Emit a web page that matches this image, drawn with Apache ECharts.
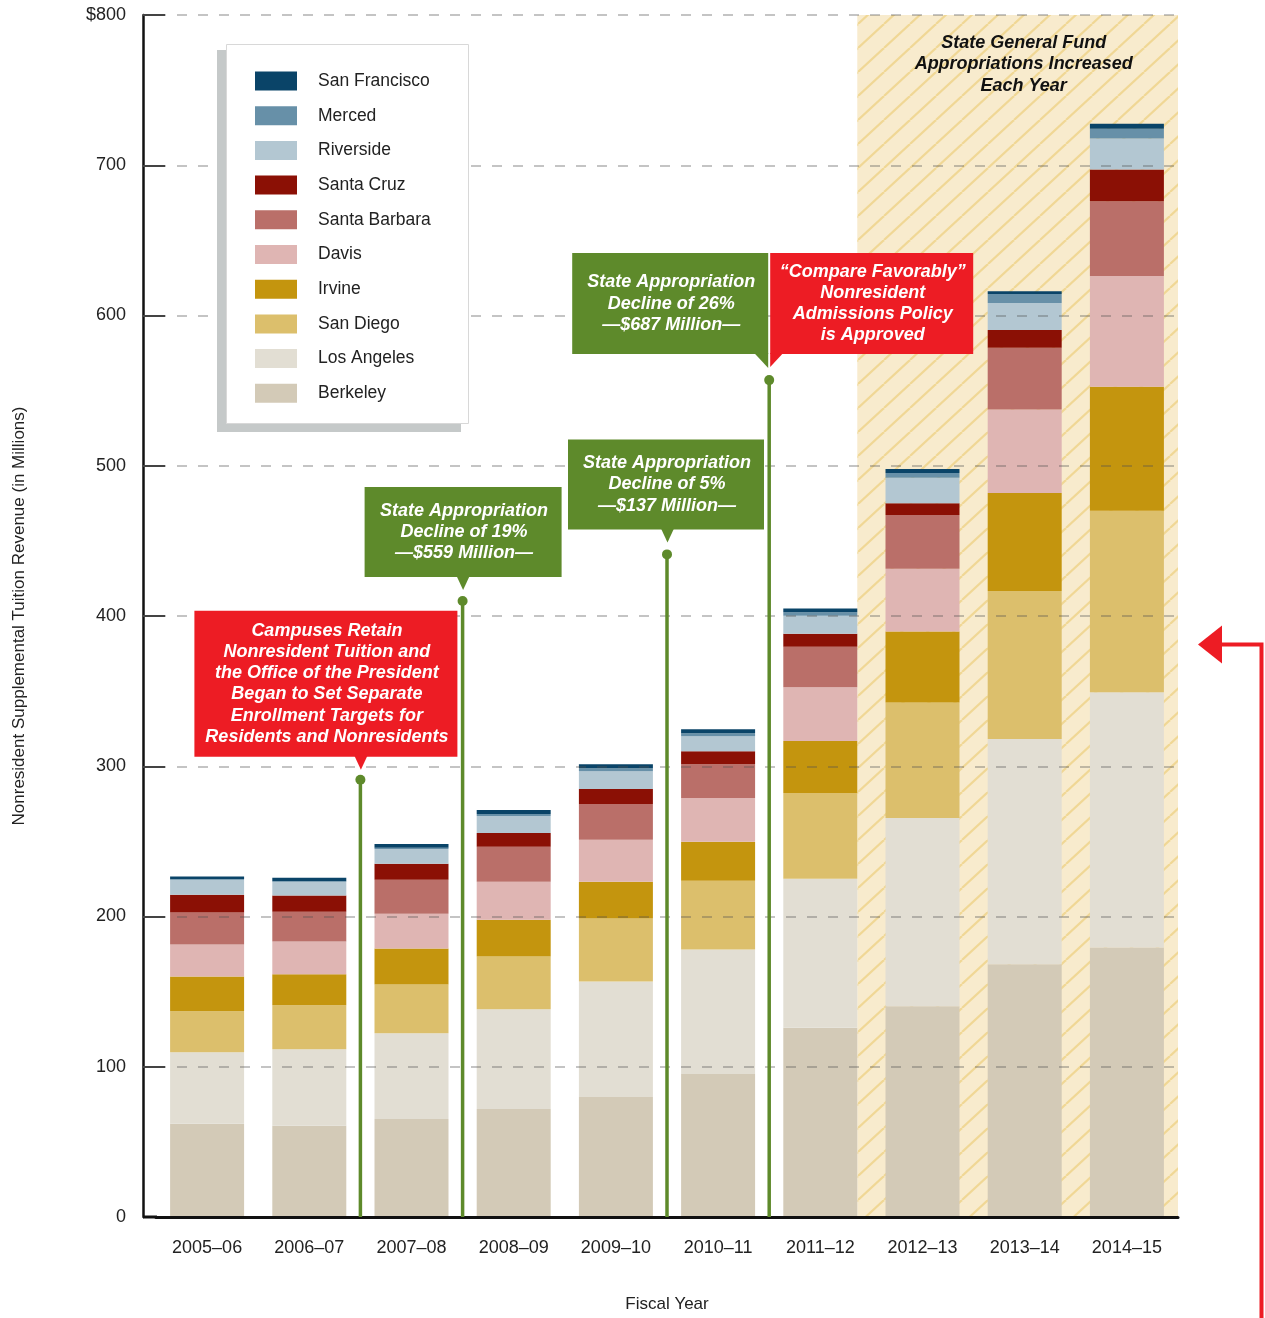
<!DOCTYPE html>
<html><head><meta charset="utf-8">
<script src="https://cdn.jsdelivr.net/npm/echarts@6/dist/echarts.min.js"></script>
<style>html,body{margin:0;padding:0;background:#fff}#c{width:1265px;height:1318px}</style>
</head><body><div id="c"></div>
<script>
const categories = ['2005–06','2006–07','2007–08','2008–09','2009–10','2010–11','2011–12','2012–13','2013–14','2014–15'];
const campuses = ['Berkeley','Los Angeles','San Diego','Irvine','Davis','Santa Barbara','Santa Cruz','Riverside','Merced','San Francisco'];
const campusColors = ['#d3cab7','#e2ded3','#dcbf6c','#c4950e','#dfb5b3','#ba6f69','#8b1005','#b3c7d2','#6790a8','#0a4468'];
const berkeley     = [62.0, 60.7, 65.3, 71.9, 79.9, 95.2, 125.9, 140.2, 168.2, 179.4];
const losAngeles   = [47.7, 51.0, 57.0, 66.4, 76.9, 82.9, 99.3, 125.4, 149.9, 169.9];
const sanDiego     = [27.2, 29.2, 32.5, 35.1, 41.8, 45.7, 57.0, 76.8, 98.5, 120.7];
const irvine       = [23.2, 20.6, 23.9, 24.5, 24.5, 25.9, 34.6, 47.3, 65.3, 82.5];
const davis        = [21.3, 21.9, 23.2, 25.2, 27.9, 29.1, 35.7, 41.7, 55.6, 73.8];
const santaBarbara = [21.2, 19.8, 22.6, 23.3, 23.9, 22.6, 27.1, 35.8, 41.0, 49.7];
const santaCruz    = [11.9, 10.7, 10.6, 9.2, 9.9, 8.6, 8.6, 7.8, 11.9, 21.1];
const riverside    = [10.0, 9.2, 9.9, 11.3, 11.9, 10.0, 11.9, 17.0, 17.9, 20.7];
const merced       = [0.3, 0.3, 0.7, 1.3, 2.0, 2.0, 2.4, 3.2, 6.0, 6.5];
const sanFrancisco = [1.9, 2.4, 2.6, 2.7, 2.7, 2.6, 2.5, 2.6, 1.9, 3.4];
const yTicks = [0, 100, 200, 300, 400, 500, 600, 700, 800];

// events: vertical line after category index, level of dot (millions)
const eventAfterIndex = [1, 2, 4, 5];
const eventLevels = [291, 410, 441, 557];
const calloutTexts = [
  'Campuses Retain\nNonresident Tuition and\nthe Office of the President\nBegan to Set Separate\nEnrollment Targets for\nResidents and Nonresidents',
  'State Appropriation\nDecline of 19%\n—$559 Million—',
  'State Appropriation\nDecline of 5%\n—$137 Million—',
  'State Appropriation\nDecline of 26%\n—$687 Million—',
  '“Compare Favorably”\nNonresident\nAdmissions Policy\nis Approved'
];
const hatchTitle = 'State General Fund\nAppropriations Increased\nEach Year';
const hatchFromIndex = 6;
const arrowLevel = 381;

(function () {
const seriesValues = [berkeley, losAngeles, sanDiego, irvine, davis, santaBarbara, santaCruz, riverside, merced, sanFrancisco];
const GREEN = '#5e8a2b', RED = '#ed1c24';
const FONT = '"Liberation Sans", Arial, sans-serif';
const BAR_W = 74;

const chart = echarts.init(document.getElementById('c'));
chart.setOption({
  animation: false,
  backgroundColor: '#fff',
  grid: { left: 156, top: 15, width: 1022, height: 1206.7 },
  legend: {
    data: campuses.slice().reverse(),
    orient: 'vertical', left: 250, top: 66.5, padding: 5,
    itemWidth: 42, itemHeight: 19, itemGap: 15.7,
    icon: 'rect', selectedMode: false, z: 20,
    textStyle: { fontSize: 17.5, color: '#222', fontFamily: FONT, padding: [0, 0, 0, 16] }
  },
  xAxis: {
    type: 'category', data: categories, z: 5,
    axisLine: { lineStyle: { color: '#111', width: 3 } },
    axisTick: { show: false },
    axisLabel: { fontSize: 18, color: '#222', fontFamily: FONT, margin: 22 },
    name: 'Fiscal Year', nameLocation: 'middle', nameGap: 79,
    nameTextStyle: { fontSize: 17, color: '#222', fontFamily: FONT }
  },
  yAxis: {
    type: 'value', min: 0, max: 800, interval: 100, offset: 13, z: 3,
    axisLine: { show: true, lineStyle: { color: '#111', width: 2.5 } },
    axisTick: { show: true, inside: true, length: 22, lineStyle: { color: '#444', width: 2 } },
    axisLabel: { fontSize: 18, color: '#222', fontFamily: FONT, margin: 17,
      formatter: v => (v === yTicks[yTicks.length - 1] ? '$' + v : String(v)) },
    splitLine: { lineStyle: { color: 'rgba(80,80,80,0.45)', width: 1.5, type: [10, 11] } },
    name: 'Nonresident Supplemental Tuition Revenue (in Millions)',
    nameLocation: 'middle', nameGap: 115, nameRotate: 90,
    nameTextStyle: { fontSize: 17, color: '#222', fontFamily: FONT }
  },
  series: campuses.map((c, i) => ({
    name: c, type: 'bar', stack: 'total', barWidth: BAR_W,
    itemStyle: { color: campusColors[i] },
    data: seriesValues[i]
  }))
});

function px(i, v) { return chart.convertToPixel({ gridIndex: 0 }, [i, v]); }

// hatch pattern
const tile = document.createElement('canvas');
tile.width = 26; tile.height = 24;
const tctx = tile.getContext('2d');
tctx.fillStyle = '#f8ebcd'; tctx.fillRect(0, 0, 26, 24);
tctx.strokeStyle = '#f0d795'; tctx.lineWidth = 2.2;
[[0, 24, 26, 0], [-26, 24, 0, 0], [26, 24, 52, 0]].forEach(l => {
  tctx.beginPath(); tctx.moveTo(l[0], l[1]); tctx.lineTo(l[2], l[3]); tctx.stroke();
});

const basePt = px(0, 0);
const topPt = px(0, 800);
const lastX = px(categories.length - 1, 0)[0];
const band = px(1, 0)[0] - px(0, 0)[0];
const gridRight = lastX + band / 2;
const hatchLeft = px(hatchFromIndex, 0)[0] + BAR_W / 2;

const g = [];
g.push({ type: 'rect', z: -1, shape: { x: hatchLeft, y: topPt[1], width: gridRight - hatchLeft, height: basePt[1] - topPt[1] },
  style: { fill: { type: 'pattern', image: tile, repeat: 'repeat' } } });
g.push({ type: 'text', z: 15, style: { text: hatchTitle, x: (hatchLeft + gridRight) / 2 + 6, y: 64.5, align: 'center', verticalAlign: 'middle',
  font: 'italic bold 18px ' + FONT, lineHeight: 21.5, fill: '#111' } });

// x-axis extension to y-axis
g.push({ type: 'line', z: 6, shape: { x1: basePt[0] - band / 2 - 13, y1: basePt[1], x2: basePt[0] - band / 2 + 1, y2: basePt[1] },
  style: { stroke: '#111', lineWidth: 3 } });

// legend box
g.push({ type: 'rect', z: 14, shape: { x: 217, y: 50, width: 244, height: 382 }, style: { fill: '#c5c9c9' } });
g.push({ type: 'rect', z: 14, shape: { x: 226.5, y: 44.5, width: 242, height: 379 }, style: { fill: '#fff', stroke: '#d8d8d8', lineWidth: 1 } });

// events
const dots = eventAfterIndex.map((idx, k) => {
  const a = px(idx, eventLevels[k]), b = px(idx + 1, eventLevels[k]);
  return [(a[0] + b[0]) / 2, a[1]];
});
dots.forEach(d => {
  g.push({ type: 'line', z: 15, shape: { x1: d[0], y1: d[1], x2: d[0], y2: basePt[1] }, style: { stroke: GREEN, lineWidth: 3.5 } });
  g.push({ type: 'circle', z: 16, shape: { cx: d[0], cy: d[1], r: 5 }, style: { fill: GREEN } });
});

const boxes = [
  { ev: 0, l: -166, r: 97, t: -169, b: -23, color: RED, ptr: 'center', text: calloutTexts[0] },
  { ev: 1, l: -98, r: 99, t: -114, b: -24, color: GREEN, ptr: 'center', text: calloutTexts[1] },
  { ev: 2, l: -99, r: 97, t: -115, b: -25, color: GREEN, ptr: 'center', text: calloutTexts[2] },
  { ev: 3, l: -197, r: -1, t: -127, b: -26, color: GREEN, ptr: 'right', text: calloutTexts[3] },
  { ev: 3, l: 1, r: 204, t: -127, b: -26, color: RED, ptr: 'left', text: calloutTexts[4] }
];
boxes.forEach(bx => {
  const d = dots[bx.ev];
  const x0 = d[0] + bx.l, x1 = d[0] + bx.r, y0 = d[1] + bx.t, y1 = d[1] + bx.b;
  g.push({ type: 'rect', z: 17, shape: { x: x0, y: y0, width: x1 - x0, height: y1 - y0 }, style: { fill: bx.color } });
  let pts;
  if (bx.ptr === 'center') pts = [[d[0] - 6, y1 - 1], [d[0] + 7, y1 - 1], [d[0] + 0.5, y1 + 13]];
  else if (bx.ptr === 'right') pts = [[x1 - 14, y1 - 1], [x1, y1 - 1], [x1, y1 + 14]];
  else pts = [[x0, y1 - 1], [x0 + 13, y1 - 1], [x0, y1 + 13]];
  g.push({ type: 'polygon', z: 17, shape: { points: pts }, style: { fill: bx.color } });
  g.push({ type: 'text', z: 18, style: { text: bx.text, x: (x0 + x1) / 2 + 1, y: (y0 + y1) / 2, align: 'center', verticalAlign: 'middle',
    font: 'italic bold 18px ' + FONT, lineHeight: 21.2, fill: '#fff' } });
});

// red arrow on right
const ay = px(0, arrowLevel)[1];
g.push({ type: 'polyline', z: 15, shape: { points: [[1261.5, 1318], [1261.5, ay], [1218, ay]] }, style: { stroke: RED, lineWidth: 4, fill: null } });
g.push({ type: 'polygon', z: 15, shape: { points: [[1198, ay], [1222, ay - 19], [1222, ay + 19]] }, style: { fill: RED } });

chart.setOption({ graphic: g });
})();
</script>
</body></html>
